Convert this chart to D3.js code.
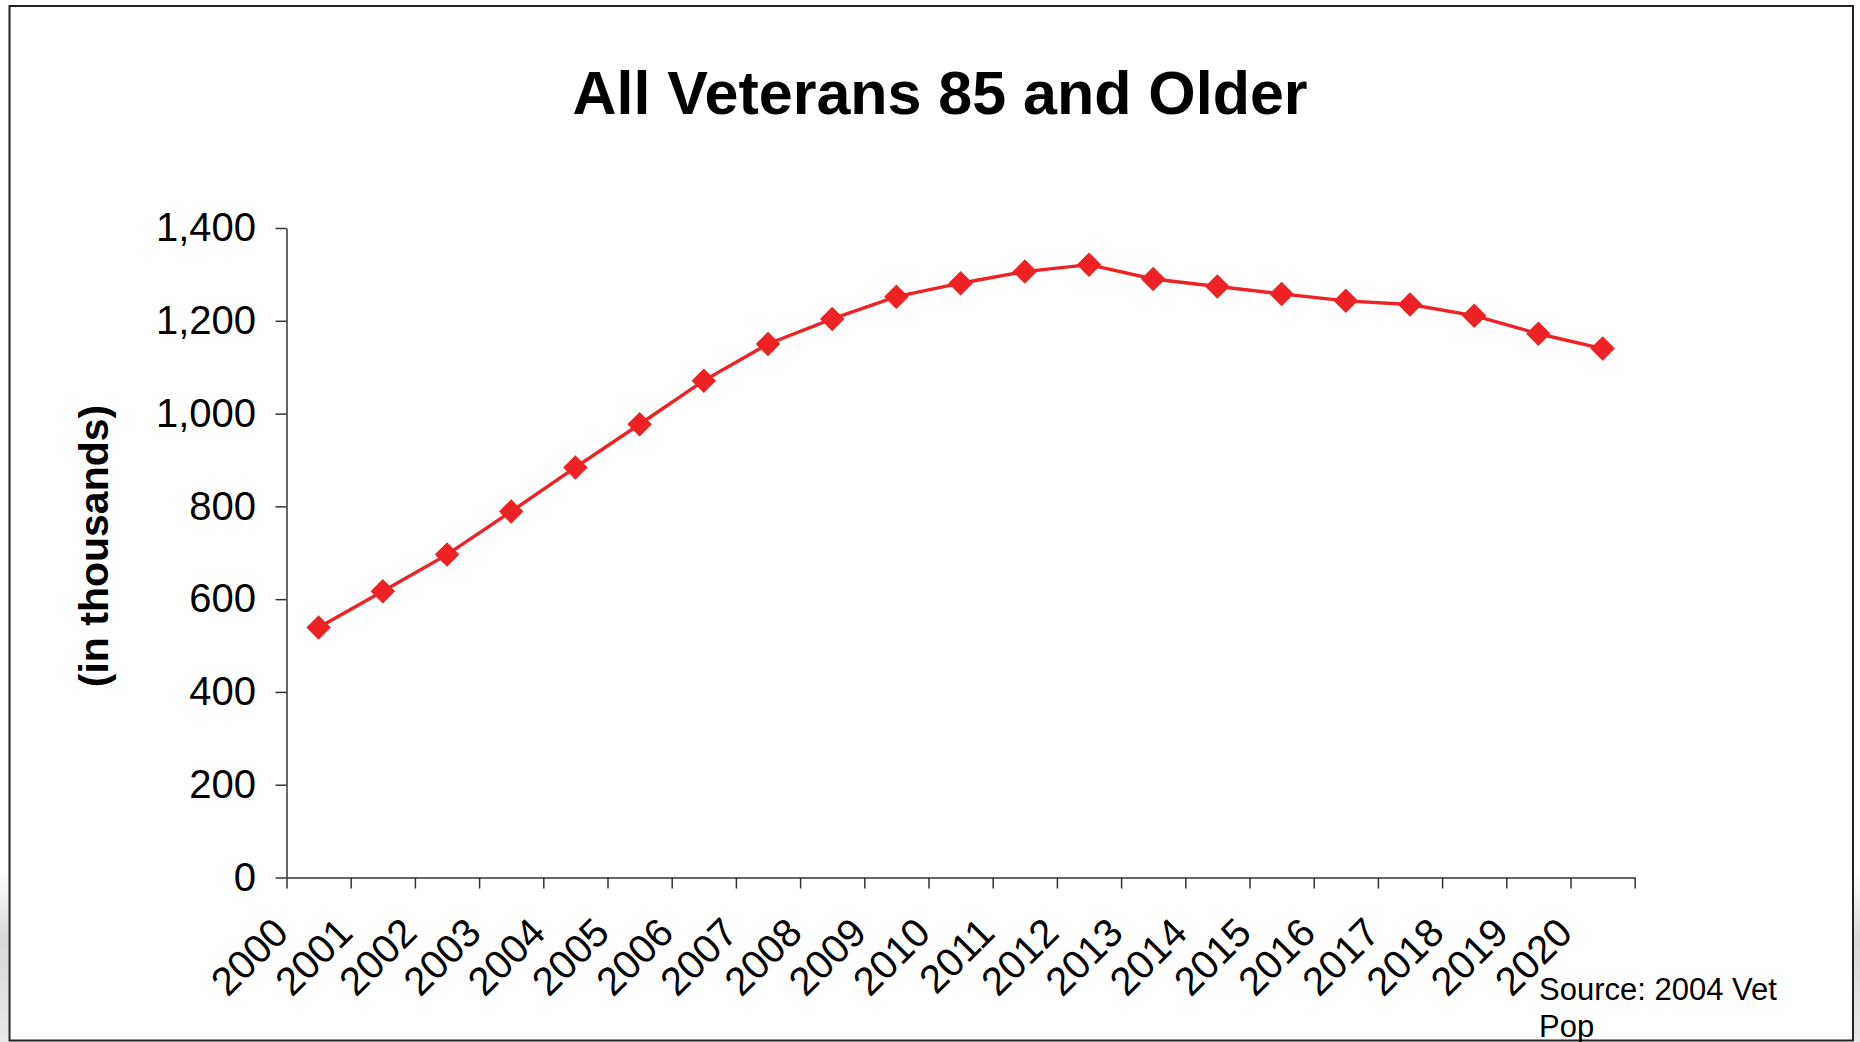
<!DOCTYPE html>
<html>
<head>
<meta charset="utf-8">
<script src="https://cdn.jsdelivr.net/npm/d3@7"></script>
<style>
  body { margin: 0; background: #fff; }
  svg { display: block; font-family: "Liberation Sans", Arial, sans-serif; }
</style>
</head>
<body>
<div class="chart"></div>
<script>
var years = ["2000","2001","2002","2003","2004","2005","2006","2007","2008","2009","2010",
             "2011","2012","2013","2014","2015","2016","2017","2018","2019","2020"];
var veterans = [539, 617, 696, 789, 884, 977, 1071, 1150, 1204, 1252, 1281,
                1306, 1321, 1290, 1274, 1258, 1243, 1235, 1211, 1172, 1140];
var yTicks = [0, 200, 400, 600, 800, 1000, 1200, 1400];

var svgWidth = 1860;
var svgHeight = 1042;
var plotLeft = 286.5, plotRight = 1634.7, plotTop = 228, plotBottom = 877.5;
var red = "#ee2225";

var svg = d3.select(".chart")
            .append("svg")
            .attr("width", svgWidth)
            .attr("height", svgHeight);

// faint grey smudges outside the frame
var grad = svg.append("defs").append("linearGradient")
    .attr("id", "edge").attr("x1", 0).attr("x2", 0).attr("y1", 0).attr("y2", 1);
grad.append("stop").attr("offset", "0%").attr("stop-color", "#fff");
grad.append("stop").attr("offset", "40%").attr("stop-color", "#d8d8d8");
grad.append("stop").attr("offset", "100%").attr("stop-color", "#e8e8e8");
svg.append("rect").attr("x", 0).attr("y", 870).attr("width", 8).attr("height", 172).attr("fill", "url(#edge)");
svg.append("rect").attr("x", 1854).attr("y", 870).attr("width", 6).attr("height", 172).attr("fill", "url(#edge)");

// frame
svg.append("rect")
    .attr("x", 9.5).attr("y", 6).attr("width", 1843.5).attr("height", 1034.5)
    .attr("fill", "none").attr("stroke", "#222").attr("stroke-width", 2);

svg.append("text")
    .attr("x", 940).attr("y", 114)
    .attr("text-anchor", "middle")
    .attr("font-size", 62).attr("font-weight", "bold")
    .attr("textLength", 735).attr("lengthAdjust", "spacingAndGlyphs")
    .text("All Veterans 85 and Older");

var x = d3.scaleBand().domain(years).range([plotLeft, plotRight]);
var xEdge = d3.scaleLinear().domain([0, years.length]).range([plotLeft, plotRight]);
var y = d3.scaleLinear().domain([0, 1400]).range([plotBottom, plotTop]);

// y axis
var yAxis = svg.append("g")
    .attr("transform", "translate(" + plotLeft + ",0)")
    .call(d3.axisLeft(y).tickValues(yTicks).tickFormat(d3.format(","))
          .tickSize(11).tickSizeOuter(0).tickPadding(19.5));
yAxis.selectAll("path, line").attr("stroke", "#333").attr("stroke-width", 1.5);
yAxis.selectAll("text").attr("font-size", 40).attr("fill", "#000")
    .attr("font-family", "Liberation Sans, Arial, sans-serif");

// x axis: ticks between categories
var xAxis = svg.append("g")
    .attr("transform", "translate(0," + plotBottom + ")")
    .call(d3.axisBottom(xEdge).tickValues(d3.range(years.length + 1))
          .tickFormat("").tickSize(11).tickSizeOuter(0));
xAxis.selectAll("path, line").attr("stroke", "#333").attr("stroke-width", 1.5);

svg.selectAll(".xlab")
    .data(years)
    .enter()
    .append("text")
    .attr("class", "xlab")
    .attr("transform", function(d) {
      return "translate(" + (x(d) + x.bandwidth() / 2 - 28) + ",935) rotate(-45)";
    })
    .attr("text-anchor", "end")
    .attr("font-size", 40)
    .text(function(d) { return d; });

svg.append("text")
    .attr("transform", "translate(108,546) rotate(-90)")
    .attr("text-anchor", "middle")
    .attr("font-size", 41).attr("font-weight", "bold")
    .text("(in thousands)");

// series
var line = d3.line()
    .x(function(d, i) { return x(years[i]) + x.bandwidth() / 2; })
    .y(function(d) { return y(d); });

svg.append("path")
    .datum(veterans)
    .attr("d", line)
    .attr("fill", "none")
    .attr("stroke", red)
    .attr("stroke-width", 3.4);

svg.selectAll(".marker")
    .data(veterans)
    .enter()
    .append("path")
    .attr("class", "marker")
    .attr("d", d3.symbol().type(d3.symbolSquare).size(300))
    .attr("transform", function(d, i) {
      return "translate(" + (x(years[i]) + x.bandwidth() / 2) + "," + y(d) + ") rotate(45)";
    })
    .attr("fill", red);

svg.append("text")
    .attr("x", 1539).attr("y", 1000)
    .attr("font-size", 31)
    .text("Source: 2004 Vet");
svg.append("text")
    .attr("x", 1539).attr("y", 1037)
    .attr("font-size", 31)
    .text("Pop");
</script>
</body>
</html>
